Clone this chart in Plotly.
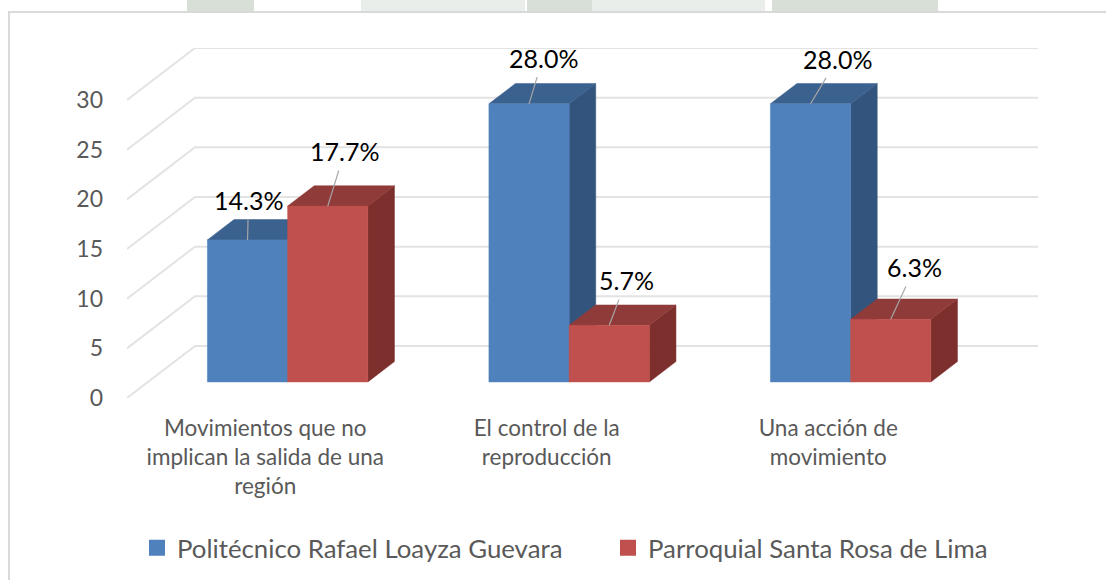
import plotly.graph_objects as go

categories = ["Movimientos que no<br>implican la salida de una<br>región",
              "El control de la<br>reproducción",
              "Una acción de<br>movimiento"]
series_names = ["Politécnico Rafael Loayza Guevara", "Parroquial Santa Rosa de Lima"]
politecnico = [14.3, 28.0, 28.0]
parroquial = [17.7, 5.7, 6.3]
y_ticks = [0, 5, 10, 15, 20, 25, 30]

# projection of the oblique 3-D look, in axis units
WALL_DX, WALL_DY = 0.2416, 5.237
BAR_W = 0.285
BAR_SHIFT = -0.004
D_FRONT, D_BACK = 0.309, 0.70
FONT = "Lato"
PLOT_W = 979  # plot area runs to the right page edge
CAT_W = 281.5


def proj(x, v, d):
    return x + d * WALL_DX, v + d * WALL_DY


def faces(xl, xr, v):
    def poly(pts):
        xs, ys = zip(*[proj(*p) for p in pts])
        return list(xs) + [xs[0], None], list(ys) + [ys[0], None]
    front = poly([(xl, 0, D_FRONT), (xr, 0, D_FRONT), (xr, v, D_FRONT), (xl, v, D_FRONT)])
    top = poly([(xl, v, D_FRONT), (xr, v, D_FRONT), (xr, v, D_BACK), (xl, v, D_BACK)])
    side = poly([(xr, 0, D_FRONT), (xr, 0, D_BACK), (xr, v, D_BACK), (xr, v, D_FRONT)])
    return front, top, side


fig = go.Figure()

# gridlines: oblique floor/wall segment + back wall
gx, gy = [], []
for t in y_ticks:
    a = proj(-0.5, t, 0)
    b = proj(-0.5, t, 1)
    c = proj(2.495, t, 1)
    gx += [a[0], b[0], c[0], None]
    gy += [a[1], b[1], c[1], None]
fig.add_trace(go.Scatter(x=gx, y=gy, mode="lines", line=dict(color="#E3E3E3", width=2),
                         hoverinfo="skip", showlegend=False))

styles = [
    dict(vals=politecnico, front="#4F81BD", top="#3B618F", side="#33547D", off=-1),
    dict(vals=parroquial, front="#C0504D", top="#8F3B39", side="#7C2F2D", off=0),
]
for s in styles:
    fx, fy, tx, ty, sx, sy = [], [], [], [], [], []
    for i, v in enumerate(s["vals"]):
        xl = i + BAR_SHIFT + s["off"] * BAR_W
        f, t, d = faces(xl, xl + BAR_W, v)
        fx += f[0]; fy += f[1]; tx += t[0]; ty += t[1]; sx += d[0]; sy += d[1]
    for xs, ys, col in ((sx, sy, s["side"]), (tx, ty, s["top"]), (fx, fy, s["front"])):
        fig.add_trace(go.Scatter(x=xs, y=ys, mode="lines", fill="toself", fillcolor=col,
                                 line=dict(width=0.5, color=col), hoverinfo="skip", showlegend=False))

# legend entries
for name, col in zip(series_names, ("#4F81BD", "#C0504D")):
    fig.add_trace(go.Scatter(x=[None], y=[None], mode="markers", name=name,
                             marker=dict(symbol="square", size=16, color=col)))

# data labels with leader lines; offsets (pixels) from bar top to label centre
label_offsets = [
    [(1, -40), (14, -46), (27, -45)],
    [(17, -55), (17, -45), (24, -52)],
]
annotations = []
for s, offs in zip(styles, label_offsets):
    for i, (v, (ax, ay)) in enumerate(zip(s["vals"], offs)):
        xl = i + BAR_SHIFT + s["off"] * BAR_W
        px, py = proj(xl + BAR_W / 2, v, D_FRONT)
        annotations.append(dict(x=px, y=py, xref="x", yref="y", text=f"{v:.1f}%", ax=ax, ay=ay,
                                showarrow=True, arrowhead=0, arrowwidth=1.2, arrowcolor="#A6A6A6",
                                startstandoff=3,
                                font=dict(family=FONT, size=25, color="#000000")))

top_px = lambda p: (398 - p) / 350
left_px = lambda p: (p - 127) / PLOT_W
shapes = []
for a, b, c in [(187, 254, "#D8DFD6"), (361, 525, "#E9EEEB"), (527, 592, "#D8DFD8"),
                (592, 765, "#EAEEEB"), (772, 938, "#D8DFD6")]:
    shapes.append(dict(type="rect", xref="paper", yref="paper", layer="below", line=dict(width=0),
                       x0=left_px(a), x1=left_px(b), y0=top_px(12), y1=top_px(0), fillcolor=c))
shapes.append(dict(type="path", xref="paper", yref="paper", layer="below",
                   path=f"M {left_px(9)} {top_px(580)} L {left_px(9)} {top_px(12)} L {left_px(1106)} {top_px(12)}",
                   line=dict(color="#D9D9D9", width=2)))

fig.update_layout(
    width=1106, height=580, autosize=False,
    margin=dict(l=127, r=0, t=48, b=182, pad=0),
    paper_bgcolor="white", plot_bgcolor="rgba(0,0,0,0)",
    font=dict(family=FONT, color="#595959", size=22),
    annotations=annotations, shapes=shapes,
    legend=dict(orientation="h", x=left_px(137), y=top_px(548),
                xanchor="left", yanchor="middle", entrywidth=426, entrywidthmode="pixels",
                font=dict(family=FONT, size=25.8, color="#595959"),
                bgcolor="rgba(0,0,0,0)", traceorder="normal"),
    xaxis=dict(range=[-0.5, -0.5 + PLOT_W / CAT_W], tickvals=[-0.009, 0.991, 1.991], ticktext=categories,
               showgrid=False, zeroline=False, showline=False, ticks="", ticklabelstandoff=14,
               tickfont=dict(family=FONT, size=22.5, color="#595959")),
    yaxis=dict(range=[0, 30 + WALL_DY], tickvals=y_ticks, showgrid=False, zeroline=False,
               showline=False, ticks="", ticklabelstandoff=23,
               tickfont=dict(family=FONT, size=23, color="#595959")),
)
fig.write_html("out.html", config=dict(displayModeBar=False),
               post_script="document.body.style.margin='0';document.body.style.overflow='hidden';")
